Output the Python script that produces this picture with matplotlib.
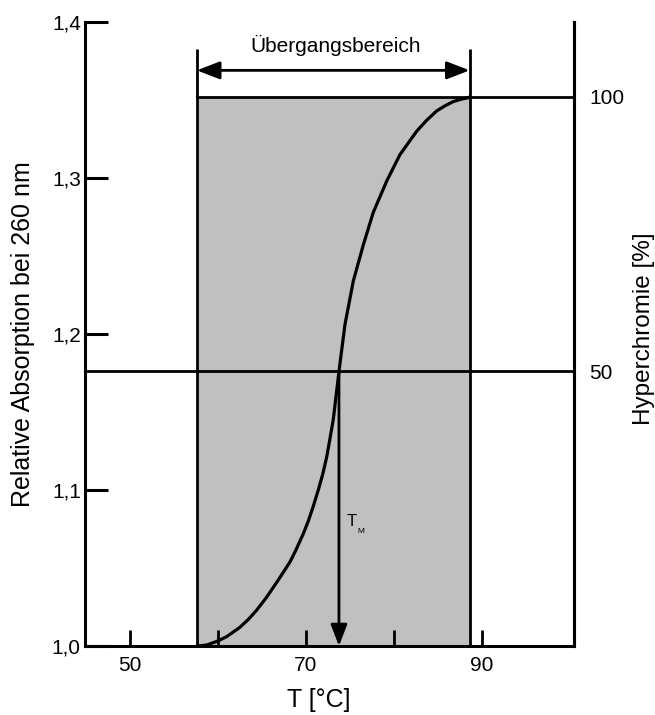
import matplotlib
matplotlib.use("Agg")
import matplotlib.pyplot as plt

plt.rcParams['font.family'] = ['Liberation Sans', 'DejaVu Sans']

# ---- data ----
temp_curve = [57.6, 58.7, 59.9, 61.0, 62.5, 63.45, 64.4, 65.5, 66.7, 67.4, 68.2,
              68.9, 69.7, 70.26, 70.8, 71.4, 71.9, 72.35, 72.7, 73.1, 73.75,
              74.43, 75.38, 76.51, 77.65, 79.17, 80.68, 82.58, 83.71, 84.85,
              85.8, 86.74, 87.7, 88.44, 88.6]
abs_curve = [1.0, 1.0006, 1.003, 1.006, 1.012, 1.017, 1.023, 1.031, 1.041, 1.047,
             1.054, 1.062, 1.072, 1.080, 1.089, 1.100, 1.110, 1.121, 1.132, 1.145,
             1.176, 1.206, 1.234, 1.257, 1.278, 1.298, 1.315, 1.330, 1.337,
             1.343, 1.3463, 1.349, 1.3506, 1.3515, 1.352]
range_start = 57.6
range_end = 88.6
tm_value = 73.75
abs_low = 1.0
abs_high = 1.352
abs_mid = 1.176
yticks = [1.0, 1.1, 1.2, 1.3, 1.4]
ytick_labels = ["1,0", "1,1", "1,2", "1,3", "1,4"]
xticks = [50, 60, 70, 80, 90]
xtick_labels = ["50", "", "70", "", "90"]
hyper_ticks = [50, 100]
hyper_labels = ["50", "100"]
range_label = "Übergangsbereich"
xlabel = "T [°C]"
ylabel = "Relative Absorption bei 260 nm"
ylabel_right = "Hyperchromie [%]"

fig = plt.figure(figsize=(6.55, 7.15), dpi=100)
ax = fig.add_axes([85/655, 69/715, 489/655, 624/715])
xmin, xmax = 44.9, 100.45
ax.set_xlim(xmin, xmax)
ax.set_ylim(1.0, 1.4)

# shaded transition region
ax.fill_between([range_start, range_end], abs_low, abs_high,
                color='#c0c0c0', lw=0, zorder=1)
ax.plot([range_start, range_end], [abs_high, abs_high], color='k', lw=2, zorder=2)
ax.vlines([range_start, range_end], abs_low, 1.383, color='k', lw=2, zorder=2)
# 100% line to right axis
ax.plot([range_end, xmax], [abs_high, abs_high], color='k', lw=2, zorder=2)
# 50% line
ax.plot([xmin, xmax], [abs_mid, abs_mid], color='k', lw=2, zorder=2)

# melting curve
ax.plot(temp_curve, abs_curve, color='k', lw=2.3, zorder=3,
        solid_capstyle='round', solid_joinstyle='round')

# double arrow for transition range
ax.annotate('', xy=(range_end, 1.369), xytext=(range_start, 1.369),
            arrowprops=dict(arrowstyle='<|-|>,head_length=0.7,head_width=0.27',
                            lw=2, color='k', mutation_scale=20,
                            shrinkA=0, shrinkB=0), zorder=3)
ax.text((range_start + range_end) / 2 + 0.3, 1.385, range_label,
        ha='center', va='center', fontsize=15)

# Tm arrow
ax.annotate('', xy=(tm_value, abs_low), xytext=(tm_value, abs_mid),
            arrowprops=dict(arrowstyle='-|>,head_length=0.65,head_width=0.25',
                            lw=2, color='k', mutation_scale=20,
                            shrinkA=0, shrinkB=0), zorder=3)
ax.text(74.66, 1.0795, "T", ha='left', va='center', fontsize=12)
ax.text(75.85, 1.0735, "M", ha='left', va='center', fontsize=6)

# axes styling
for s in ['left', 'bottom', 'right']:
    ax.spines[s].set_linewidth(2.2)
ax.spines['top'].set_visible(False)

ax.set_yticks(yticks)
ax.set_yticklabels(ytick_labels)
ax.set_xticks(xticks)
ax.set_xticklabels(xtick_labels)
ax.tick_params(axis='y', direction='in', length=16.5, width=2.2, pad=3,
               labelsize=15, right=False)
ax.tick_params(axis='x', direction='in', length=11.5, width=2, pad=7,
               labelsize=15, top=False)

ax.set_xlabel(xlabel, fontsize=18)
ax.xaxis.set_label_coords(0.479, -0.087)
ax.xaxis.label.set_va('center')
ax.set_ylabel(ylabel, fontsize=18)
ax.yaxis.set_label_coords(-0.127, 0.5)
ax.yaxis.label.set_va('center')

# right axis (hyperchromicity)
ax2 = ax.twinx()
ax2.set_ylim(0, (1.4 - abs_low) / (abs_high - abs_low) * 100)
ax2.set_yticks(hyper_ticks)
ax2.set_yticklabels(hyper_labels)
ax2.tick_params(axis='y', length=0, pad=11, labelsize=15)
for s in ['left', 'bottom', 'top']:
    ax2.spines[s].set_visible(False)
ax2.spines['right'].set_linewidth(2.2)
ax2.set_ylabel(ylabel_right, fontsize=17.5, rotation=90)
ax2.yaxis.set_label_coords(1.143, 0.508)
ax2.yaxis.label.set_va('center')

fig.savefig("out.png", dpi=100)
